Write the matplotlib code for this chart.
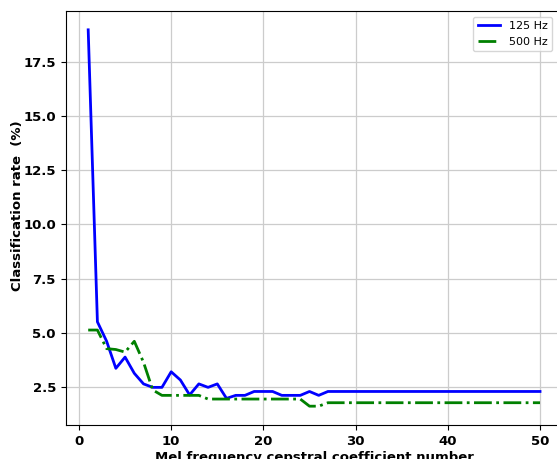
import matplotlib
matplotlib.use('Agg')
import matplotlib.pyplot as plt

# coefficient numbers 1..50
mfcc_num = list(range(1, 51))

# classification rate (%)
rate_125 = [19.0, 5.5, 4.6, 3.35, 3.87, 3.12, 2.63, 2.47, 2.47, 3.19,
            2.81, 2.12, 2.63, 2.47, 2.63, 1.96, 2.1, 2.1, 2.28, 2.28,
            2.28, 2.1, 2.1, 2.1, 2.28, 2.1] + [2.28] * 24
rate_500 = [5.12, 5.12, 4.26, 4.22, 4.1, 4.6, 3.63, 2.35, 2.1, 2.1,
            2.1, 2.1, 2.1, 1.93, 1.93, 1.93, 1.93, 1.93, 1.93, 1.93,
            1.93, 1.93, 1.93, 1.93, 1.6, 1.6] + [1.76] * 24

fig = plt.figure(figsize=(5.57, 4.59), dpi=100)
# axes run a bit past the right edge, like the cropped original
ax = fig.add_axes([65.6 / 557, 34 / 459, 497 / 557, 414 / 459])

ax.plot(mfcc_num, rate_125, color='blue', linestyle='-', linewidth=2, label='125 Hz')
ax.plot(mfcc_num, rate_500, color='green', linestyle='-.', linewidth=2, label='500 Hz')

ax.grid(True, color='#cccccc', linewidth=0.9)
ax.set_xticks([0, 10, 20, 30, 40, 50])
ax.set_yticks([2.5, 5.0, 7.5, 10.0, 12.5, 15.0, 17.5])
for lab in ax.get_xticklabels() + ax.get_yticklabels():
    lab.set_fontweight('bold')
    lab.set_fontsize(9.5)

ax.set_xlabel('Mel frequency cepstral coefficient number', fontsize=9.5, fontweight='bold', labelpad=2)
ax.set_ylabel('Classification rate  (%)', fontsize=9.5, fontweight='bold')
ax.yaxis.set_label_coords(-0.083, 0.53)
ax.legend(loc='upper right', fontsize=8, bbox_to_anchor=(1 - 5 / 497, 1))

fig.savefig('out.png', dpi=100)
